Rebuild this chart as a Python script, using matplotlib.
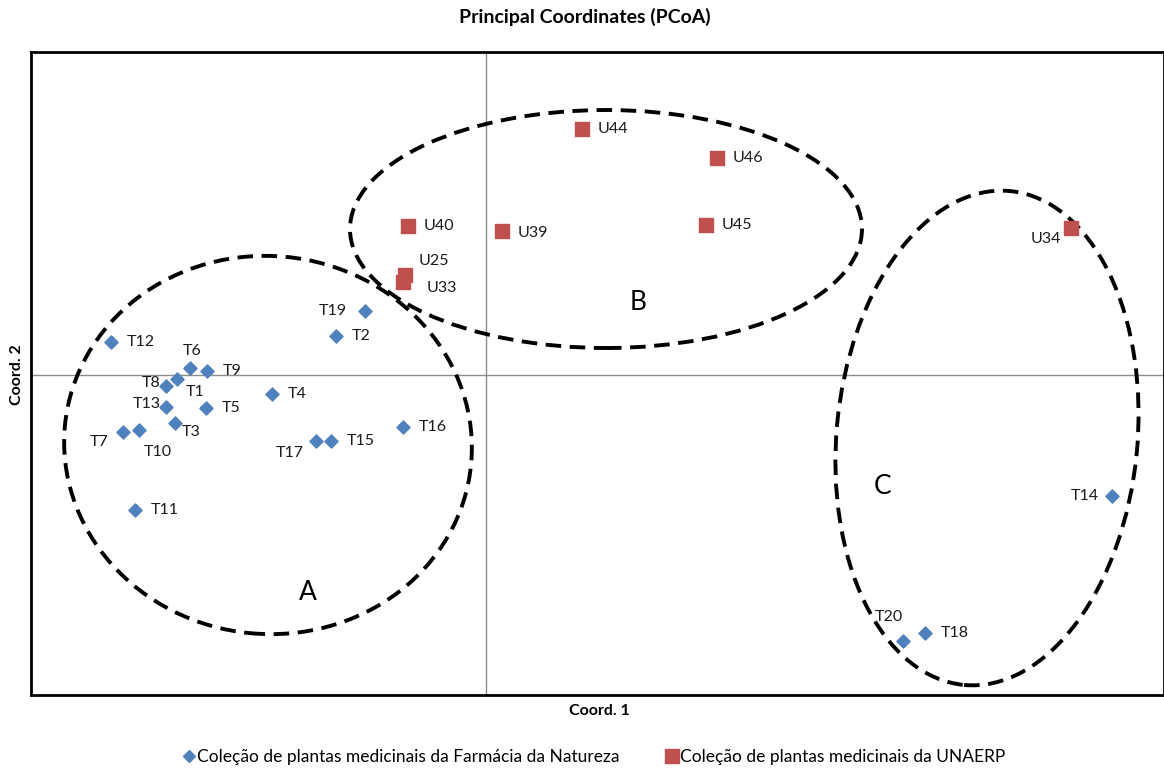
import matplotlib.pyplot as plt
from matplotlib.patches import Ellipse
from matplotlib.lines import Line2D

# Farmácia da Natureza collection (T) - PCoA coordinates
t_names = ['T1', 'T2', 'T3', 'T4', 'T5', 'T6', 'T7', 'T8', 'T9', 'T10',
           'T11', 'T12', 'T13', 'T14', 'T15', 'T16', 'T17', 'T18', 'T19', 'T20']
t_x = [-0.309, -0.150, -0.311, -0.214, -0.280, -0.296, -0.363, -0.320, -0.279, -0.347,
       -0.351, -0.375, -0.320, 0.626, -0.155, -0.083, -0.170, 0.439, -0.121, 0.417]
t_y = [-0.004, 0.039, -0.048, -0.019, -0.033, 0.007, -0.057, -0.011, 0.004, -0.055,
       -0.135, 0.033, -0.032, -0.121, -0.066, -0.052, -0.066, -0.258, 0.064, -0.266]

# UNAERP collection (U)
u_names = ['U25', 'U33', 'U34', 'U39', 'U40', 'U44', 'U45', 'U46']
u_x = [-0.081, -0.083, 0.585, 0.016, -0.078, 0.096, 0.220, 0.231]
u_y = [0.100, 0.093, 0.147, 0.144, 0.149, 0.246, 0.150, 0.217]

# label placement (pixels offset from point, horizontal alignment)
right = (16, 0, 'left')
offsets = {
    'T1': (9, -13, 'left'), 'T3': (7, -9, 'left'), 'T6': (2, 17, 'center'),
    'T7': (-14, -10, 'right'), 'T8': (-5, 3, 'right'), 'T10': (5, -22, 'left'),
    'T13': (-5, 3, 'right'), 'T14': (-13, 0, 'right'), 'T17': (-12, -12, 'right'),
    'T19': (-18, 0, 'right'), 'T20': (-14, 24, 'center'),
    'U25': (14, 14, 'left'), 'U33': (24, -6, 'left'), 'U34': (-25, -11, 'center'),
    'U39': (16, -2, 'left'),
}

blue = '#4F81BD'
red = '#C0504D'

fig = plt.figure(figsize=(11.64, 7.69), dpi=100)
plt.rcParams['font.family'] = ['Lato', 'DejaVu Sans']
ax = fig.add_axes([31 / 1164, 1 - 695 / 769, 1 - 31 / 1164, (695 - 52) / 769])
ax.set_xlim(-0.455, 0.678)
ax.set_ylim(-0.320, 0.323)
ax.set_xticks([])
ax.set_yticks([])
for s in ax.spines.values():
    s.set_linewidth(2)
ax.axhline(0, color='#8c8c8c', lw=1, zorder=1)
ax.axvline(0, color='#8c8c8c', lw=1, zorder=1)

ax.scatter(t_x, t_y, marker='D', s=45, color=blue, zorder=3)
ax.scatter(u_x, u_y, marker='s', s=95, color=red, zorder=3)

for names, xs, ys in [(t_names, t_x, t_y), (u_names, u_x, u_y)]:
    for n, x, y in zip(names, xs, ys):
        dx, dy, ha = offsets.get(n, right)
        ax.annotate(n, (x, y), xytext=(dx, dy), textcoords='offset pixels',
                    ha=ha, va='center', fontsize=11.5, color='#1a1a1a')

# cluster ellipses
ell = [
    ((-0.218, -0.070), 0.408, 0.378, -5.6),
    ((0.120, 0.146), 0.512, 0.238, 0.0),
    ((0.501, -0.063), 0.301, 0.496, -5.3),
]
for c, w, h, a in ell:
    ax.add_patch(Ellipse(c, w, h, angle=a, fill=False, ls=(0, (4, 2.2)),
                         lw=2.8, color='black', zorder=2))
ax.text(-0.178, -0.218, 'A', fontsize=19, ha='center', va='center')
ax.text(0.152, 0.073, 'B', fontsize=19, ha='center', va='center')
ax.text(0.397, -0.112, 'C', fontsize=19, ha='center', va='center')

fig.text(585 / 1164, 1 - 17 / 769, 'Principal Coordinates (PCoA)', ha='center',
         va='center', fontsize=14, fontweight='bold')
fig.text(599 / 1164, 1 - 711 / 769, 'Coord. 1', ha='center', va='center',
         fontsize=11.5, fontweight='bold')
fig.text(17 / 1164, 1 - 375 / 769, 'Coord. 2', ha='center', va='center',
         fontsize=11.5, fontweight='bold', rotation=90)

handles = [
    Line2D([], [], marker='D', ls='', color=blue, markersize=6),
    Line2D([], [], marker='s', ls='', color=red, markersize=10),
]
fig.legend(handles, ['Coleção de plantas medicinais da Farmácia da Natureza',
                     'Coleção de plantas medicinais da UNAERP'],
           loc='center', bbox_to_anchor=(0.51, 1 - 757 / 769), ncol=2, frameon=False,
           fontsize=12.5, handletextpad=0.05, columnspacing=2.6, handlelength=0.8)

fig.savefig('out.png', dpi=100)
